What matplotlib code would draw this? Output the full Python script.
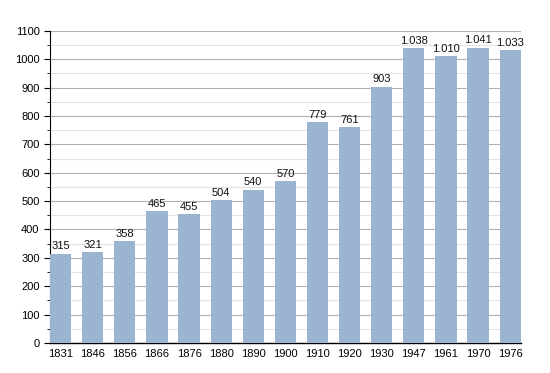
import matplotlib
matplotlib.use("Agg")
import matplotlib.pyplot as plt
from matplotlib.ticker import MultipleLocator

plt.rcParams["font.family"] = ["Liberation Sans", "DejaVu Sans"]

years = ["1831", "1846", "1856", "1866", "1876", "1880", "1890", "1900",
         "1910", "1920", "1930", "1947", "1961", "1970", "1976"]
population = [315, 321, 358, 465, 455, 504, 540, 570,
              779, 761, 903, 1038, 1010, 1041, 1033]

def fmt(v):
    # thousands separator with a dot
    return f"{v:,}".replace(",", ".")

fig = plt.figure(figsize=(5.5, 3.73), dpi=100)
ax = fig.add_axes([0.0909, 0.0804, 0.856, 0.837])

x = range(len(years))
ax.bar(x, population, width=0.66, color="#9bb4cf", zorder=3)

for i, v in enumerate(population):
    ax.text(i, v + 8, fmt(v), ha="center", va="bottom", fontsize=8, color="#111111", zorder=4)

ax.set_xlim(-0.33, len(years) - 0.67)
ax.set_ylim(0, 1100)
ax.yaxis.set_major_locator(MultipleLocator(100))
ax.yaxis.set_minor_locator(MultipleLocator(50))
ax.grid(axis="y", which="major", color="#b0b0b0", linewidth=0.8, zorder=0)
ax.grid(axis="y", which="minor", color="#e2e2e2", linewidth=0.8, zorder=0)

ax.set_xticks(list(x))
ax.set_xticklabels(years)
ax.tick_params(axis="x", length=0, labelsize=8, pad=4)
ax.tick_params(axis="y", which="major", length=4, labelsize=8, direction="out")
ax.tick_params(axis="y", which="minor", length=2.5, direction="out")

for s in ["top", "right"]:
    ax.spines[s].set_visible(False)
ax.spines["left"].set_color("black")
ax.spines["bottom"].set_color("black")
ax.spines["bottom"].set_linewidth(1.0)

fig.savefig("out.png", dpi=100)
